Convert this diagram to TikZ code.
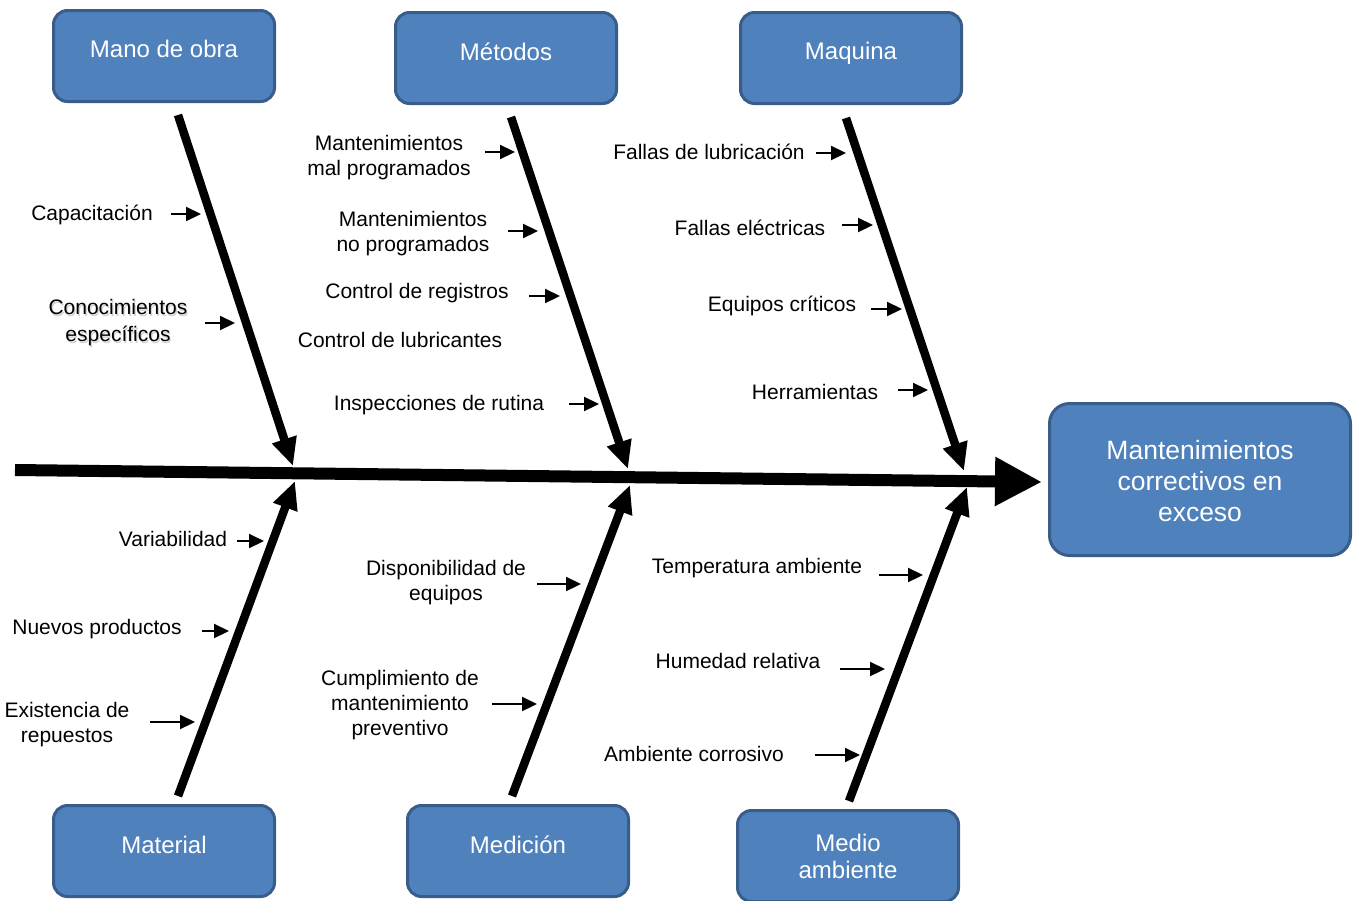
\documentclass[tikz,border=0pt]{standalone}
\usepackage{fontspec}
\setmainfont{Liberation Sans}
\usetikzlibrary{arrows.meta}
\definecolor{boxfill}{RGB}{79,129,189}
\definecolor{boxline}{RGB}{56,93,138}
\begin{document}
\begin{tikzpicture}[x=1pt,y=-1pt,
  catbox/.style={draw=boxline, fill=boxfill, line width=3pt, rounded corners=14pt, minimum width=221pt, minimum height=91pt, inner sep=0pt},
  cattext/.style={text=white, font=\fontsize{24}{27}\selectfont, align=center, inner sep=0pt},
  efftext/.style={text=white, font=\fontsize{26.5}{31}\selectfont, align=center, inner sep=0pt},
  lbl/.style={font=\fontsize{21}{25}\selectfont, align=center, inner sep=0pt, yshift=-1.5pt},
  bone/.style={line width=8.5pt, -{Triangle[length=28pt,width=24pt]}},
  spine/.style={line width=12pt, -{Triangle[length=47pt,width=46pt]}},
  cause/.style={line width=2.2pt, -{Triangle[length=15pt,width=14pt]}}
]
\useasboundingbox (0,0) rectangle (1360,900);

% category boxes
\node[catbox] (mano) at (164,56) {};
\node[cattext] (manoT) at (164,49) {Mano de obra};
\node[catbox] (metodos) at (506,58) {};
\node[cattext] (metodosT) at (506,52) {Métodos};
\node[catbox] (maquina) at (851,58) {};
\node[cattext] (maquinaT) at (851,53) {Maquina};
\node[catbox] (material) at (164,851) {};
\node[cattext] (materialT) at (164,845) {Material};
\node[catbox] (medicion) at (518,851) {};
\node[cattext] (medicionT) at (518,845) {Medición};
\node[catbox] (medio) at (848,856) {};
\node[cattext] (medioT) at (848,856) {Medio\\ambiente};

% effect box
\node[catbox, minimum width=301pt, minimum height=152pt, rounded corners=20pt] (effect) at (1200,479.5) {};
\node[efftext] (effectT) at (1200,481) {Mantenimientos\\correctivos en\\exceso};

% spine
\coordinate (tail) at (15,470);
\coordinate (head) at (1042,482);
\draw[spine] (tail) -- (head);

% bones
\coordinate (b1s) at (178,115); \coordinate (b1e) at (293,466);
\coordinate (b2s) at (511,117); \coordinate (b2e) at (628,469);
\coordinate (b3s) at (846,118); \coordinate (b3e) at (964,471);
\coordinate (b4s) at (178,796); \coordinate (b4e) at (295,481);
\coordinate (b5s) at (512,796); \coordinate (b5e) at (630,485);
\coordinate (b6s) at (849,801); \coordinate (b6e) at (967,487);
\draw[bone] (b1s) -- (b1e);
\draw[bone] (b2s) -- (b2e);
\draw[bone] (b3s) -- (b3e);
\draw[bone] (b4s) -- (b4e);
\draw[bone] (b5s) -- (b5e);
\draw[bone] (b6s) -- (b6e);

% Mano de obra causes
\node[lbl] (c1) at (92,213) {Capacitación};
\draw[cause] (171,214) -- (201,214);
\node[lbl, text=black!18, font=\fontsize{21}{27}\selectfont] at (119.2,322.7) {Conocimientos\\específicos};
\node[lbl, font=\fontsize{21}{27}\selectfont] (c2) at (118,321.5) {Conocimientos\\específicos};
\draw[cause] (205,323) -- (235,323);

% Metodos causes
\node[lbl] (m1) at (389,156) {Mantenimientos\\mal programados};
\draw[cause] (485,152) -- (515,152);
\node[lbl] (m2) at (413,232) {Mantenimientos\\no programados};
\draw[cause] (508,231) -- (538,231);
\node[lbl] (m3) at (417,292) {Control de registros};
\draw[cause] (529,296) -- (560,296);
\node[lbl] (m4) at (400,338) {Control de lubricantes};
\node[lbl] (m5) at (439,404) {Inspecciones de rutina};
\draw[cause] (569,404) -- (599,404);

% Maquina causes
\node[lbl] (q1) at (709,150) {Fallas de lubricación};
\draw[cause] (816,153) -- (846,153);
\node[lbl] (q2) at (750,226) {Fallas eléctricas};
\draw[cause] (842,225) -- (873,225);
\node[lbl] (q3) at (782,304) {Equipos críticos};
\draw[cause] (871,309) -- (902,309);
\node[lbl] (q4) at (815,390) {Herramientas};
\draw[cause] (898,390) -- (928,390);

% Material causes
\node[lbl] (t1) at (173,537) {Variabilidad};
\draw[cause] (237,541) -- (264,541);
\node[lbl] (t2) at (97,628) {Nuevos productos};
\draw[cause] (202,631) -- (229,631);
\node[lbl] (t3) at (67,723) {Existencia de\\repuestos};
\draw[cause] (150,722) -- (195,722);

% Medicion causes
\node[lbl] (d1) at (446,581) {Disponibilidad de\\equipos};
\draw[cause] (537,584) -- (581,584);
\node[lbl] (d2) at (400,704) {Cumplimiento de\\mantenimiento\\preventivo};
\draw[cause] (492,704) -- (537,704);

% Medio ambiente causes
\node[lbl] (a1) at (757,567) {Temperatura ambiente};
\draw[cause] (879,575) -- (923,575);
\node[lbl] (a2) at (738,659) {Humedad relativa};
\draw[cause] (840,669) -- (885,669);
\node[lbl] (a3) at (694,752) {Ambiente corrosivo};
\draw[cause] (815,755) -- (860,755);
\end{tikzpicture}
\end{document}
